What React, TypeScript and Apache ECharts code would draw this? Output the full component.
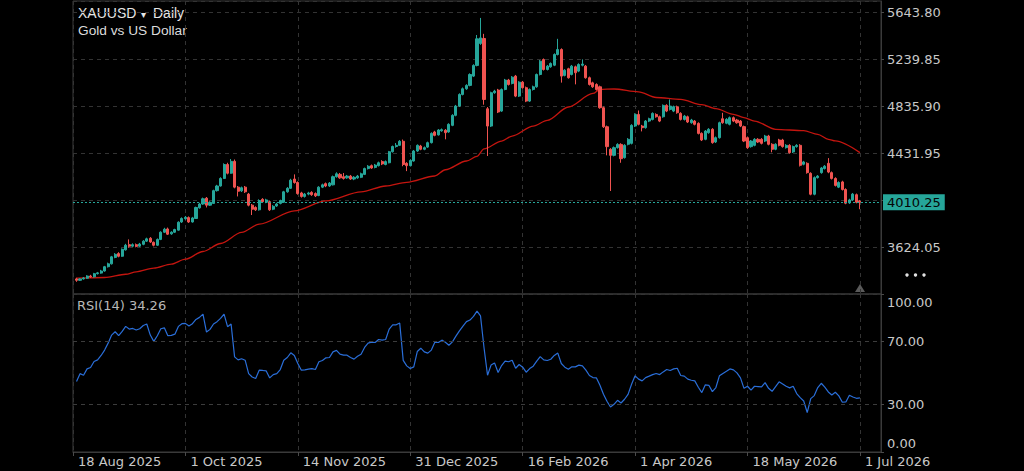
import React, { useEffect, useRef } from 'react';
import * as echarts from 'echarts';

// ---- DATA -----------------------------------------------------------
// candles: [open, close, low, high], one per trading day
const candles: number[][] = [
  [3350, 3338, 3325, 3360], [3338, 3350, 3332, 3356], [3350, 3358, 3344, 3366], [3356, 3375, 3350, 3382], [3375, 3368, 3360, 3385],
  [3368, 3395, 3362, 3402], [3395, 3402, 3388, 3410], [3400, 3418, 3394, 3428], [3418, 3455, 3412, 3462], [3455, 3480, 3448, 3490],
  [3480, 3540, 3474, 3548], [3535, 3562, 3528, 3572], [3568, 3545, 3536, 3580], [3545, 3605, 3540, 3612], [3600, 3640, 3594, 3652],
  [3645, 3632, 3618, 3690], [3632, 3645, 3625, 3656], [3645, 3630, 3622, 3655], [3632, 3650, 3626, 3660], [3648, 3675, 3640, 3684],
  [3675, 3695, 3668, 3705], [3700, 3668, 3660, 3710], [3665, 3640, 3630, 3672], [3640, 3690, 3634, 3698], [3690, 3752, 3684, 3760],
  [3752, 3778, 3745, 3790], [3780, 3735, 3728, 3792], [3738, 3752, 3730, 3760], [3752, 3775, 3745, 3782], [3770, 3838, 3765, 3846],
  [3840, 3870, 3832, 3880], [3868, 3880, 3860, 3892], [3878, 3840, 3832, 3888], [3840, 3875, 3835, 3884], [3870, 3965, 3866, 3972],
  [3962, 3995, 3955, 4005], [3995, 4040, 3988, 4050], [4045, 3985, 3965, 4055], [3985, 4010, 3978, 4018], [4000, 4110, 3995, 4118],
  [4110, 4150, 4102, 4160], [4150, 4215, 4145, 4225], [4215, 4335, 4210, 4345], [4335, 4260, 4250, 4350], [4260, 4362, 4255, 4382],
  [4362, 4140, 4130, 4378], [4140, 4105, 4060, 4150], [4108, 4135, 4098, 4145], [4140, 4100, 4090, 4150], [4080, 3985, 3975, 4090],
  [3985, 3950, 3900, 3995], [3965, 3945, 3935, 3975], [3945, 4025, 3938, 4035], [4035, 4015, 4005, 4045], [4010, 4030, 4002, 4040],
  [4015, 3945, 3935, 4025], [3950, 3975, 3942, 3985], [3978, 3995, 3970, 4005], [4000, 4025, 3992, 4032], [4010, 4100, 4004, 4108],
  [4100, 4130, 4092, 4140], [4130, 4200, 4124, 4212], [4210, 4180, 4170, 4250], [4180, 4085, 4075, 4190], [4090, 4060, 4050, 4100],
  [4060, 4080, 4050, 4090], [4080, 4090, 4070, 4100], [4095, 4075, 4065, 4105], [4085, 4065, 4055, 4095], [4068, 4140, 4062, 4148],
  [4140, 4160, 4132, 4170], [4170, 4150, 4140, 4180], [4150, 4175, 4142, 4184], [4160, 4230, 4155, 4240], [4230, 4255, 4222, 4268],
  [4250, 4220, 4212, 4262], [4230, 4215, 4205, 4262], [4220, 4235, 4212, 4245], [4235, 4210, 4202, 4245], [4210, 4225, 4200, 4235],
  [4220, 4235, 4212, 4245], [4225, 4255, 4218, 4265], [4250, 4300, 4244, 4308], [4300, 4320, 4292, 4330], [4325, 4305, 4298, 4335],
  [4310, 4330, 4302, 4340], [4325, 4350, 4318, 4360], [4360, 4340, 4330, 4372], [4335, 4360, 4328, 4370], [4350, 4445, 4345, 4452],
  [4445, 4490, 4438, 4498], [4490, 4500, 4480, 4520], [4500, 4535, 4494, 4545], [4535, 4335, 4320, 4550], [4345, 4325, 4278, 4355],
  [4325, 4370, 4318, 4380], [4365, 4451, 4360, 4460], [4451, 4500, 4444, 4508], [4494, 4466, 4458, 4504], [4466, 4480, 4458, 4490],
  [4485, 4523, 4478, 4532], [4523, 4603, 4516, 4612], [4615, 4586, 4578, 4625], [4590, 4632, 4584, 4640], [4625, 4635, 4617, 4645],
  [4630, 4609, 4552, 4640], [4615, 4681, 4608, 4690], [4672, 4758, 4665, 4768], [4758, 4838, 4750, 4848], [4838, 4938, 4830, 4948],
  [4938, 4987, 4930, 4998], [4987, 5016, 4978, 5026], [5016, 5110, 5008, 5120], [5096, 5188, 5088, 5198], [5188, 5417, 5180, 5450],
  [5377, 5425, 5365, 5597], [5420, 4895, 4850, 5460], [4815, 4666, 4408, 4830], [4666, 4953, 4658, 4962], [4953, 4967, 4944, 4978],
  [4976, 4787, 4778, 4986], [4795, 4981, 4788, 4990], [4981, 5062, 4974, 5072], [5062, 5024, 5015, 5072], [5033, 5087, 5025, 5096],
  [5096, 4924, 4915, 5106], [4924, 5044, 4916, 5052], [5044, 4996, 4988, 5054], [4996, 4881, 4872, 5006], [4881, 4981, 4874, 4990],
  [4981, 5004, 4972, 5014], [5004, 5110, 4996, 5118], [5110, 5225, 5102, 5234], [5239, 5153, 5144, 5248], [5153, 5182, 5145, 5192],
  [5176, 5205, 5168, 5214], [5190, 5282, 5182, 5292], [5282, 5325, 5274, 5417], [5325, 5096, 5040, 5335], [5102, 5147, 5094, 5156],
  [5159, 5082, 5074, 5168], [5110, 5182, 5102, 5192], [5176, 5125, 5025, 5186], [5139, 5196, 5130, 5206], [5190, 5200, 5180, 5240],
  [5182, 5082, 5074, 5192], [5082, 5024, 5015, 5092], [5038, 5004, 4995, 5048], [5024, 4981, 4972, 5034], [5004, 4824, 4815, 5014],
  [4824, 4660, 4650, 4834], [4660, 4489, 4414, 4670], [4466, 4414, 4107, 4476], [4414, 4480, 4405, 4490], [4480, 4508, 4472, 4518],
  [4508, 4385, 4350, 4518], [4394, 4500, 4386, 4510], [4509, 4552, 4500, 4562], [4517, 4672, 4508, 4682], [4666, 4766, 4658, 4776],
  [4766, 4681, 4672, 4800], [4666, 4652, 4620, 4676], [4652, 4709, 4644, 4718], [4709, 4729, 4700, 4738], [4723, 4775, 4715, 4784],
  [4766, 4746, 4738, 4776], [4746, 4709, 4700, 4756], [4746, 4844, 4738, 4852], [4844, 4795, 4786, 4854], [4809, 4838, 4800, 4895],
  [4795, 4832, 4786, 4842], [4832, 4781, 4772, 4842], [4775, 4723, 4714, 4785], [4723, 4752, 4714, 4762], [4746, 4701, 4692, 4756],
  [4695, 4718, 4686, 4728], [4709, 4681, 4672, 4718], [4689, 4603, 4594, 4698], [4603, 4546, 4537, 4612], [4552, 4623, 4544, 4632],
  [4609, 4638, 4600, 4648], [4638, 4523, 4514, 4648], [4529, 4566, 4520, 4576], [4566, 4695, 4558, 4704], [4729, 4695, 4686, 4780],
  [4690, 4724, 4682, 4734], [4681, 4738, 4672, 4748], [4738, 4709, 4700, 4748], [4718, 4695, 4686, 4728], [4709, 4666, 4657, 4718],
  [4661, 4537, 4528, 4670], [4566, 4480, 4470, 4576], [4489, 4537, 4480, 4546], [4500, 4552, 4492, 4562], [4552, 4529, 4520, 4562],
  [4552, 4517, 4508, 4562], [4537, 4580, 4528, 4590], [4580, 4509, 4500, 4590], [4509, 4466, 4440, 4518], [4466, 4509, 4458, 4518],
  [4546, 4500, 4491, 4556], [4546, 4489, 4480, 4556], [4480, 4500, 4472, 4510], [4500, 4437, 4428, 4510], [4443, 4489, 4434, 4498],
  [4489, 4500, 4480, 4510], [4500, 4328, 4318, 4510], [4337, 4357, 4328, 4366], [4345, 4265, 4256, 4354], [4259, 4079, 4070, 4268],
  [4079, 4222, 4070, 4232], [4222, 4235, 4214, 4244], [4265, 4305, 4256, 4314], [4300, 4320, 4292, 4330], [4345, 4270, 4260, 4390],
  [4265, 4215, 4206, 4275], [4215, 4155, 4146, 4225], [4140, 4180, 4132, 4190], [4185, 4120, 4111, 4195], [4120, 4002, 3993, 4130],
  [4005, 4030, 3996, 4040], [4030, 4080, 4022, 4090], [4075, 4010, 4001, 4085], [4020, 4010.25, 3950, 4030],
];

// RSI(14), one value per bar
const rsiValues: number[] = [
  44.6, 49.6, 48.6, 52.6, 53.5, 57.3, 58.3, 61.1, 64.5, 68.9,
  74.0, 76.1, 73.6, 76.3, 79.5, 77.8, 78.2, 77.2, 78.0, 80.1,
  81.0, 74.0, 70.0, 73.6, 78.0, 78.6, 73.6, 73.8, 74.6, 79.5,
  81.2, 81.4, 79.7, 81.2, 83.9, 85.2, 87.3, 75.9, 77.6, 81.0,
  82.5, 84.6, 87.3, 79.3, 81.0, 60.2, 58.3, 59.0, 58.1, 49.6,
  47.5, 46.5, 51.8, 51.6, 51.3, 46.9, 49.0, 49.6, 52.2, 58.1,
  59.8, 62.8, 61.1, 56.0, 51.8, 52.0, 52.4, 52.8, 52.2, 57.1,
  57.9, 59.6, 59.8, 63.4, 64.3, 61.9, 61.3, 61.3, 59.8, 58.8,
  60.6, 61.9, 66.2, 68.9, 69.5, 69.3, 71.2, 70.8, 71.2, 77.8,
  80.5, 80.5, 81.6, 58.0, 54.5, 52.8, 53.9, 63.6, 65.7, 63.4,
  62.6, 64.5, 69.5, 69.3, 70.8, 69.5, 67.6, 69.7, 73.3, 76.7,
  79.7, 82.5, 83.5, 85.8, 89.2, 86.1, 66.0, 48.6, 55.0, 56.4,
  50.3, 54.7, 57.5, 57.1, 58.1, 53.0, 55.4, 53.7, 50.5, 52.8,
  54.3, 57.5, 60.4, 58.3, 57.9, 58.7, 61.1, 62.6, 56.0, 53.7,
  52.4, 53.9, 53.9, 55.0, 54.5, 51.8, 48.4, 47.1, 46.9, 42.2,
  36.5, 32.1, 28.5, 30.2, 32.7, 31.0, 33.4, 36.5, 42.9, 48.2,
  46.1, 45.0, 47.1, 48.0, 49.0, 49.7, 49.0, 50.7, 52.2, 51.6,
  52.6, 53.0, 48.4, 48.0, 46.1, 45.4, 45.0, 41.0, 37.6, 42.5,
  42.2, 38.2, 40.8, 48.2, 49.7, 51.1, 52.6, 52.0, 50.1, 46.9,
  40.3, 41.6, 39.1, 41.6, 41.4, 41.2, 43.9, 40.3, 38.4, 41.4,
  44.4, 43.1, 41.6, 40.6, 41.6, 37.0, 34.4, 32.3, 25.0, 33.8,
  35.7, 40.8, 43.5, 41.0, 38.0, 36.1, 37.8, 35.5, 31.5, 31.7,
  35.9, 34.8, 34.0, 34.26,
];

// red moving average, read at selected bars
const maBars: number[] = [0, 8, 14, 17, 22, 27, 31, 36, 41, 47, 52, 62, 71, 81, 88, 94, 102, 105, 111, 114, 116, 121, 124, 130, 134, 140, 147, 149, 153, 160, 165, 172, 178, 182, 187, 190, 193, 199, 207, 211, 214, 216, 223];
const maValues: number[] = [3357, 3362, 3390, 3411, 3443, 3477, 3520, 3586, 3655, 3750, 3821, 3936, 4022, 4099, 4150, 4182, 4236, 4290, 4365, 4405, 4470, 4537, 4580, 4666, 4715, 4830, 4947, 4982, 4985, 4960, 4912, 4896, 4850, 4816, 4767, 4739, 4709, 4638, 4626, 4595, 4552, 4538, 4437];

// time axis ticks (slot index) and labels
const tickSlots: number[] = [0, 32, 64, 96, 128, 160, 192, 224];
const tickLabels: string[] = ['18 Aug 2025', '1 Oct 2025', '14 Nov 2025', '31 Dec 2025', '16 Feb 2026', '1 Apr 2026', '18 May 2026', '1 Jul 2026'];

// price axis labels shown
const priceTickLabels: number[] = [3624.05, 4431.95, 4835.9, 5239.85, 5643.8];
const rsiTickLabels: number[] = [0, 30, 70, 100];
const rsiLevels: number[] = [30, 70];

const lastPrice = 4010.25;
const rsiLast = 34.26;

// ---- LAYOUT CONSTANTS -------------------------------------------------
const SLOT_COUNT = 231;
const PRICE_MIN = 3220.1;
const PRICE_STEP = 403.95;
const PRICE_MAX = 5742.7;

const UP = '#26a69a';
const DOWN = '#ef5350';
const GRID_LINE = '#333333';
const BORDER = '#3a3a3a';
const LABEL = '#c8c8c8';
const AXIS_FONT = 'DejaVu Sans';

export default function App() {
  const ref = useRef<HTMLDivElement>(null);

  useEffect(() => {
    document.body.style.margin = '0';
    document.body.style.background = '#000';
    if (!ref.current) return;
    const chart = echarts.init(ref.current, undefined, { renderer: 'svg' });

    const categories = Array.from({ length: SLOT_COUNT }, (_, i) => String(i));
    const tickMap = new Map<number, string>(tickSlots.map((s, k) => [s, tickLabels[k]]));
    const isTick = (i: number) => tickMap.has(i);

    const makeX = (gridIndex: number) => ({
      type: 'category',
      gridIndex,
      data: categories,
      boundaryGap: false,
      axisLine: { show: gridIndex === 1, lineStyle: { color: BORDER } },
      axisTick: { show: gridIndex === 1, interval: isTick, length: 4, lineStyle: { color: '#4a4a4a' } },
      axisLabel: {
        show: gridIndex === 1,
        interval: isTick,
        formatter: (_v: string, i: number) => tickMap.get(i) ?? '',
        align: 'left',
        padding: [0, 0, 0, 5],
        margin: 3,
        color: LABEL,
        fontFamily: AXIS_FONT,
        fontSize: 13,
      },
      splitLine: { show: true, interval: isTick, lineStyle: { color: GRID_LINE, type: [4, 4], width: 1 } },
    });

    const labelFont = { color: LABEL, fontFamily: AXIS_FONT, fontSize: 13 };

    const option: any = {
      animation: false,
      backgroundColor: '#000',
      grid: [
        { left: 73, right: 143, top: 1, height: 293, show: true, borderColor: BORDER, borderWidth: 1, backgroundColor: 'transparent' },
        { left: 73, right: 143, top: 294, height: 158, show: true, borderColor: BORDER, borderWidth: 1, backgroundColor: 'transparent' },
      ],
      xAxis: [makeX(0), makeX(1)],
      yAxis: [
        {
          type: 'value',
          gridIndex: 0,
          position: 'right',
          min: PRICE_MIN,
          max: PRICE_MAX,
          interval: PRICE_STEP,
          axisLine: { show: true, lineStyle: { color: BORDER } },
          axisTick: { show: true, length: 3, lineStyle: { color: '#4a4a4a' } },
          axisLabel: {
            ...labelFont,
            margin: 6,
            showMinLabel: false,
            showMaxLabel: false,
            formatter: (v: number) => {
              const hit = priceTickLabels.find((p) => Math.abs(p - v) < 0.05);
              return hit !== undefined ? hit.toFixed(2) : '';
            },
          },
          splitLine: { show: true, lineStyle: { color: GRID_LINE, type: [4, 4], width: 1 } },
        },
        {
          type: 'value',
          gridIndex: 1,
          position: 'right',
          min: 0,
          max: 100,
          interval: 10,
          axisLine: { show: true, lineStyle: { color: BORDER } },
          axisTick: { show: true, length: 3, customValues: rsiTickLabels, lineStyle: { color: '#4a4a4a' } },
          axisLabel: {
            ...labelFont,
            margin: 6,
            customValues: rsiTickLabels,
            formatter: (v: number) => {
              if (!rsiTickLabels.includes(v)) return '';
              if (v === 100) return '{t|' + v.toFixed(2) + '}';
              if (v === 0) return '{b|' + v.toFixed(2) + '}';
              return '{m|' + v.toFixed(2) + '}';
            },
            rich: {
              t: { ...labelFont, padding: [16, 0, 0, 0] },
              b: { ...labelFont, padding: [0, 0, 17, 0] },
              m: { ...labelFont },
            },
          },
          splitLine: { show: false },
        },
      ],
      series: [
        {
          type: 'line',
          name: 'MA',
          xAxisIndex: 0,
          yAxisIndex: 0,
          data: maBars.map((b, k) => [b + 1, maValues[k]]),
          smooth: 0.3,
          smoothMonotone: 'x',
          showSymbol: false,
          lineStyle: { color: '#c4150f', width: 1.3 },
          z: 2,
        },
        {
          type: 'candlestick',
          name: 'XAUUSD',
          xAxisIndex: 0,
          yAxisIndex: 0,
          data: candles.map((c, i) => [i + 1, c[0], c[1], c[2], c[3]]),
          encode: { x: 0, y: [1, 2, 3, 4] },
          barWidth: 2.6,
          itemStyle: { color: UP, color0: DOWN, borderColor: UP, borderColor0: DOWN, borderWidth: 1 },
          z: 3,
          markLine: {
            silent: true,
            symbol: ['none', 'none'],
            data: [{ yAxis: lastPrice }],
            lineStyle: { color: UP, type: [2, 2], width: 1 },
            label: {
              show: true,
              position: 'end',
              distance: 2,
              formatter: lastPrice.toFixed(2),
              backgroundColor: UP,
              color: '#050505',
              fontFamily: AXIS_FONT,
              fontSize: 13,
              padding: [2, 4, 1, 4],
            },
          },
        },
        {
          type: 'line',
          name: 'RSI',
          xAxisIndex: 1,
          yAxisIndex: 1,
          data: rsiValues.map((v, i) => [i + 1, v]),
          showSymbol: false,
          lineStyle: { color: '#2a6ed8', width: 1.2 },
          markLine: {
            silent: true,
            symbol: ['none', 'none'],
            data: rsiLevels.map((v) => ({ yAxis: v })),
            lineStyle: { color: '#3c3c3c', type: [4, 4], width: 1 },
            label: { show: false },
          },
        },
      ],
      graphic: [
        { type: 'text', x: 78, y: 13, style: { text: 'XAUUSD', fill: '#e6e6e6', fontSize: 14, fontFamily: 'Liberation Sans', verticalAlign: 'middle', align: 'left' } },
        { type: 'text', x: 141, y: 14, style: { text: '▾', fill: '#e6e6e6', fontSize: 10, fontFamily: 'DejaVu Sans', verticalAlign: 'middle', align: 'left' } },
        { type: 'text', x: 153, y: 13, style: { text: 'Daily', fill: '#e6e6e6', fontSize: 14, fontFamily: 'Liberation Sans', verticalAlign: 'middle', align: 'left' } },
        { type: 'text', x: 78, y: 30, style: { text: 'Gold vs US Dollar', fill: '#dcdcdc', fontSize: 13.7, fontFamily: 'Liberation Sans', verticalAlign: 'middle', align: 'left' } },
        { type: 'text', x: 77, y: 305.5, style: { text: 'RSI(14) ' + rsiLast.toFixed(2), fill: '#b8b8b8', fontSize: 13, fontFamily: AXIS_FONT, verticalAlign: 'middle', align: 'left' } },
        { type: 'circle', shape: { cx: 907, cy: 275, r: 1.7 }, style: { fill: '#e0e0e0' } },
        { type: 'circle', shape: { cx: 915.5, cy: 275, r: 1.7 }, style: { fill: '#e0e0e0' } },
        { type: 'circle', shape: { cx: 924, cy: 275, r: 1.7 }, style: { fill: '#e0e0e0' } },
        { type: 'polygon', shape: { points: [[855, 292], [860, 284], [865, 292]] }, style: { fill: '#5a5a5a' } },
      ],
    };

    chart.setOption(option);
    return () => chart.dispose();
  }, []);

  return (
    <div
      ref={ref}
      style={{ position: 'fixed', left: 0, top: 0, width: 1024, height: 471, background: '#000' }}
    />
  );
}
